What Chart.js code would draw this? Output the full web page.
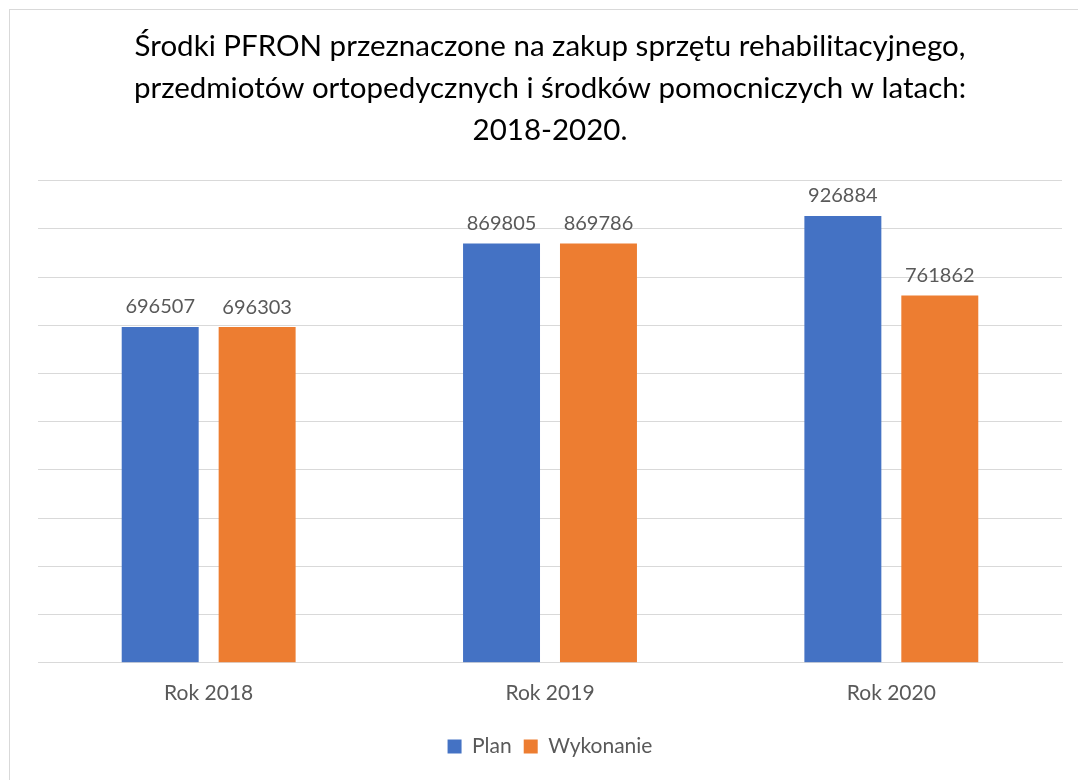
<!DOCTYPE html>
<html>
<head>
<meta charset="utf-8">
<script src="https://cdn.jsdelivr.net/npm/chart.js@4.4.0/dist/chart.umd.min.js"></script>
<style>
  html, body { margin: 0; padding: 0; background: #fff; }
  .frame { position: absolute; left: 9px; top: 9px; width: 1080px; height: 800px; border: 1px solid #d9d9d9; }
  .wrap { position: absolute; left: 0; top: 0; width: 1078px; height: 780px; }
</style>
</head>
<body>
<div class="frame"></div>
<div class="wrap"><canvas id="chart"></canvas></div>
<script>
const categories = ["Rok 2018", "Rok 2019", "Rok 2020"];
const planValues = [696507, 869805, 926884];
const wykonanieValues = [696303, 869786, 761862];
const seriesNames = ["Plan", "Wykonanie"];
const titleLines = [
  "Środki PFRON przeznaczone na zakup sprzętu rehabilitacyjnego,",
  "przedmiotów ortopedycznych i środków pomocniczych w latach:",
  "2018-2020."
];

const FONT = "Lato, 'Open Sans', sans-serif";

const valueLabels = {
  id: "valueLabels",
  afterDatasetsDraw(chart) {
    const ctx = chart.ctx;
    ctx.save();
    ctx.font = "20px " + FONT;
    ctx.fillStyle = "#595959";
    ctx.textAlign = "center";
    ctx.textBaseline = "bottom";
    chart.data.datasets.forEach((ds, i) => {
      chart.getDatasetMeta(i).data.forEach((bar, j) => {
        ctx.fillText(String(ds.data[j]), bar.x, bar.y - 10);
      });
    });
    ctx.restore();
  }
};

new Chart(document.getElementById("chart").getContext("2d"), {
  type: "bar",
  data: {
    labels: categories,
    datasets: [
      { label: seriesNames[0], data: planValues, backgroundColor: "#4472C4" },
      { label: seriesNames[1], data: wykonanieValues, backgroundColor: "#ED7D31" }
    ]
  },
  options: {
    responsive: true,
    maintainAspectRatio: false,
    animation: false,
    layout: { padding: { left: 38, right: 16, top: 26, bottom: 13 } },
    datasets: { bar: { categoryPercentage: 0.568, barPercentage: 0.794 } },
    scales: {
      x: {
        grid: { display: false, drawTicks: false },
        border: { display: true, color: "#d9d9d9", width: 1 },
        ticks: { color: "#595959", font: { family: FONT, size: 21 }, padding: 18 }
      },
      y: {
        min: 0,
        max: 1000000,
        ticks: { display: false, stepSize: 100000 },
        grid: { color: "#d9d9d9", lineWidth: 1, drawTicks: false },
        border: { display: false }
      }
    },
    plugins: {
      title: {
        display: true,
        text: titleLines,
        color: "#000000",
        font: { family: FONT, size: 29.5, weight: "normal", lineHeight: 1.42 },
        padding: { top: 0, bottom: 29 }
      },
      legend: {
        position: "bottom",
        labels: {
          color: "#595959",
          font: { family: FONT, size: 21 },
          boxWidth: 14,
          boxHeight: 14,
          padding: 12
        }
      },
      tooltip: { enabled: false }
    }
  },
  plugins: [valueLabels]
});
</script>
</body>
</html>
